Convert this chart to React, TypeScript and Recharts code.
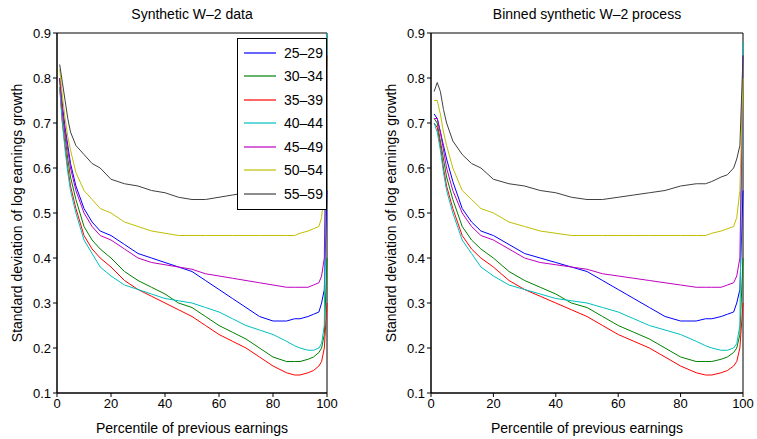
import React from "react";
import { LineChart, Line, XAxis, YAxis, ReferenceArea, Label } from "recharts";

const pct = [1, 2, 3, 4, 5, 7, 10, 13, 16, 20, 25, 30, 35, 40, 45, 50, 55, 60, 65, 70, 75, 80, 85, 88, 90, 93, 95, 97, 98, 99, 100];
const groups = ["25–29", "30–34", "35–39", "40–44", "45–49", "50–54", "55–59"];
const colors = ["#0000ff", "#008000", "#ff0000", "#00bfbf", "#bf00bf", "#bfbf00", "#404040"];

const leftSeries = [
  [0.80, 0.74, 0.69, 0.65, 0.61, 0.56, 0.51, 0.48, 0.46, 0.45, 0.43, 0.41, 0.40, 0.39, 0.38, 0.37, 0.35, 0.33, 0.31, 0.29, 0.27, 0.26, 0.26, 0.265, 0.265, 0.27, 0.275, 0.28, 0.30, 0.33, 0.55],
  [0.80, 0.72, 0.67, 0.62, 0.58, 0.53, 0.47, 0.44, 0.42, 0.40, 0.37, 0.35, 0.335, 0.32, 0.30, 0.29, 0.27, 0.25, 0.235, 0.22, 0.20, 0.18, 0.17, 0.17, 0.17, 0.175, 0.18, 0.19, 0.20, 0.23, 0.40],
  [0.78, 0.70, 0.65, 0.60, 0.56, 0.51, 0.45, 0.42, 0.40, 0.38, 0.35, 0.33, 0.315, 0.30, 0.285, 0.27, 0.25, 0.23, 0.215, 0.20, 0.18, 0.16, 0.145, 0.14, 0.14, 0.145, 0.15, 0.16, 0.17, 0.20, 0.30],
  [0.78, 0.70, 0.64, 0.59, 0.55, 0.50, 0.44, 0.41, 0.38, 0.36, 0.34, 0.33, 0.32, 0.31, 0.305, 0.30, 0.29, 0.28, 0.265, 0.25, 0.24, 0.23, 0.215, 0.205, 0.20, 0.195, 0.195, 0.20, 0.21, 0.25, 0.90],
  [0.80, 0.73, 0.68, 0.64, 0.60, 0.55, 0.50, 0.47, 0.45, 0.44, 0.42, 0.40, 0.39, 0.385, 0.38, 0.375, 0.365, 0.36, 0.355, 0.35, 0.345, 0.34, 0.335, 0.335, 0.335, 0.335, 0.34, 0.345, 0.36, 0.40, 0.85],
  [0.82, 0.76, 0.71, 0.67, 0.64, 0.59, 0.55, 0.53, 0.51, 0.50, 0.48, 0.47, 0.46, 0.455, 0.45, 0.45, 0.45, 0.45, 0.45, 0.45, 0.45, 0.45, 0.45, 0.45, 0.455, 0.46, 0.465, 0.47, 0.49, 0.55, 0.85],
  [0.83, 0.79, 0.75, 0.71, 0.68, 0.65, 0.63, 0.61, 0.60, 0.575, 0.565, 0.56, 0.55, 0.545, 0.535, 0.53, 0.53, 0.535, 0.54, 0.545, 0.55, 0.56, 0.565, 0.565, 0.57, 0.58, 0.585, 0.60, 0.62, 0.65, 0.85],
];

const rightSeries = [
  [0.72, 0.71, 0.68, 0.65, 0.62, 0.57, 0.51, 0.48, 0.46, 0.45, 0.43, 0.41, 0.40, 0.39, 0.38, 0.37, 0.35, 0.33, 0.31, 0.29, 0.27, 0.26, 0.26, 0.265, 0.265, 0.27, 0.275, 0.28, 0.30, 0.33, 0.55],
  [0.71, 0.70, 0.66, 0.62, 0.58, 0.53, 0.47, 0.44, 0.42, 0.40, 0.37, 0.35, 0.335, 0.32, 0.30, 0.29, 0.27, 0.25, 0.235, 0.22, 0.20, 0.18, 0.17, 0.17, 0.17, 0.175, 0.18, 0.19, 0.20, 0.23, 0.40],
  [0.70, 0.69, 0.65, 0.60, 0.56, 0.51, 0.45, 0.42, 0.40, 0.38, 0.35, 0.33, 0.315, 0.30, 0.285, 0.27, 0.25, 0.23, 0.215, 0.20, 0.18, 0.16, 0.145, 0.14, 0.14, 0.145, 0.15, 0.16, 0.17, 0.20, 0.30],
  [0.70, 0.68, 0.64, 0.59, 0.55, 0.50, 0.44, 0.41, 0.38, 0.36, 0.34, 0.33, 0.32, 0.31, 0.305, 0.30, 0.29, 0.28, 0.265, 0.25, 0.24, 0.23, 0.215, 0.205, 0.20, 0.195, 0.195, 0.20, 0.21, 0.25, 0.88],
  [0.71, 0.71, 0.68, 0.64, 0.60, 0.55, 0.50, 0.47, 0.45, 0.44, 0.42, 0.40, 0.39, 0.385, 0.38, 0.375, 0.365, 0.36, 0.355, 0.35, 0.345, 0.34, 0.335, 0.335, 0.335, 0.335, 0.34, 0.345, 0.36, 0.40, 0.85],
  [0.75, 0.75, 0.72, 0.68, 0.65, 0.60, 0.55, 0.53, 0.51, 0.50, 0.48, 0.47, 0.46, 0.455, 0.45, 0.45, 0.45, 0.45, 0.45, 0.45, 0.45, 0.45, 0.45, 0.45, 0.455, 0.46, 0.465, 0.47, 0.49, 0.55, 0.80],
  [0.77, 0.79, 0.77, 0.73, 0.70, 0.66, 0.63, 0.61, 0.60, 0.575, 0.565, 0.56, 0.55, 0.545, 0.535, 0.53, 0.53, 0.535, 0.54, 0.545, 0.55, 0.56, 0.565, 0.565, 0.57, 0.58, 0.585, 0.60, 0.62, 0.65, 0.85],
];

const xTicks = [0, 20, 40, 60, 80, 100];
const yTicks = [0.1, 0.2, 0.3, 0.4, 0.5, 0.6, 0.7, 0.8, 0.9];

function build(series: number[][]) {
  return pct.map((p, i) => {
    const row: any = { p };
    series.forEach((s, k) => (row["s" + k] = s[i]));
    return row;
  });
}

const font = "Liberation Sans, Arial, sans-serif";

function Panel({ series, title, left, width }: { series: number[][]; title: string; left: number; width: number }) {
  const data = build(series);
  return (
    <div style={{ position: "absolute", left, top: 0 }}>
      <LineChart width={width} height={439} data={data} margin={{ top: 33, right: 14, bottom: 0, left: 0 }} style={{ fontFamily: font }}>
        <XAxis dataKey="p" type="number" domain={[0, 100]} ticks={xTicks} tick={{ fill: "#000", fontSize: 13 }} tickSize={4} stroke="#000" height={46}>
          <Label value="Percentile of previous earnings" position="insideBottom" offset={6} fill="#000" fontSize={14} />
        </XAxis>
        <YAxis type="number" domain={[0.1, 0.9]} ticks={yTicks} tick={{ fill: "#000", fontSize: 13 }} tickSize={4} stroke="#000" width={57} tickFormatter={(v) => String(Number(v.toFixed(1)))} allowDataOverflow>
          <Label value="Standard deviation of log earnings growth" angle={-90} position="insideLeft" offset={17} fill="#000" fontSize={14} style={{ textAnchor: "middle" }} />
        </YAxis>
        <ReferenceArea x1={0} x2={100} y1={0.1} y2={0.9} fill="none" stroke="#000" strokeWidth={1} />
        {series.map((_, k) => (
          <Line key={k} dataKey={"s" + k} stroke={colors[k]} dot={false} strokeWidth={1} isAnimationActive={false} />
        ))}
      </LineChart>
      <div style={{ position: "absolute", top: 6, left: 57, width: width - 71, textAlign: "center", fontFamily: font, fontSize: 14 }}>{title}</div>
    </div>
  );
}

export default function App() {
  return (
    <div style={{ position: "absolute", left: 0, top: 0, width: 757, height: 439, background: "#fff" }}>
      <Panel series={leftSeries} title="Synthetic W–2 data" left={0} width={341} />
      <Panel series={rightSeries} title="Binned synthetic W–2 process" left={374} width={383} />
      <div style={{ position: "absolute", left: 237, top: 38, width: 88, height: 168, border: "1px solid #000", background: "#fff", fontFamily: font, fontSize: 14, paddingTop: 2 }}>
        {groups.map((g, k) => (
          <div key={g} style={{ display: "flex", alignItems: "center", height: 23.5 }}>
            <svg width={46} height={10} style={{ display: "block" }}>
              <line x1={6} x2={38} y1={5} y2={5} stroke={colors[k]} strokeWidth={1.2} />
            </svg>
            <span>{g}</span>
          </div>
        ))}
      </div>
    </div>
  );
}
